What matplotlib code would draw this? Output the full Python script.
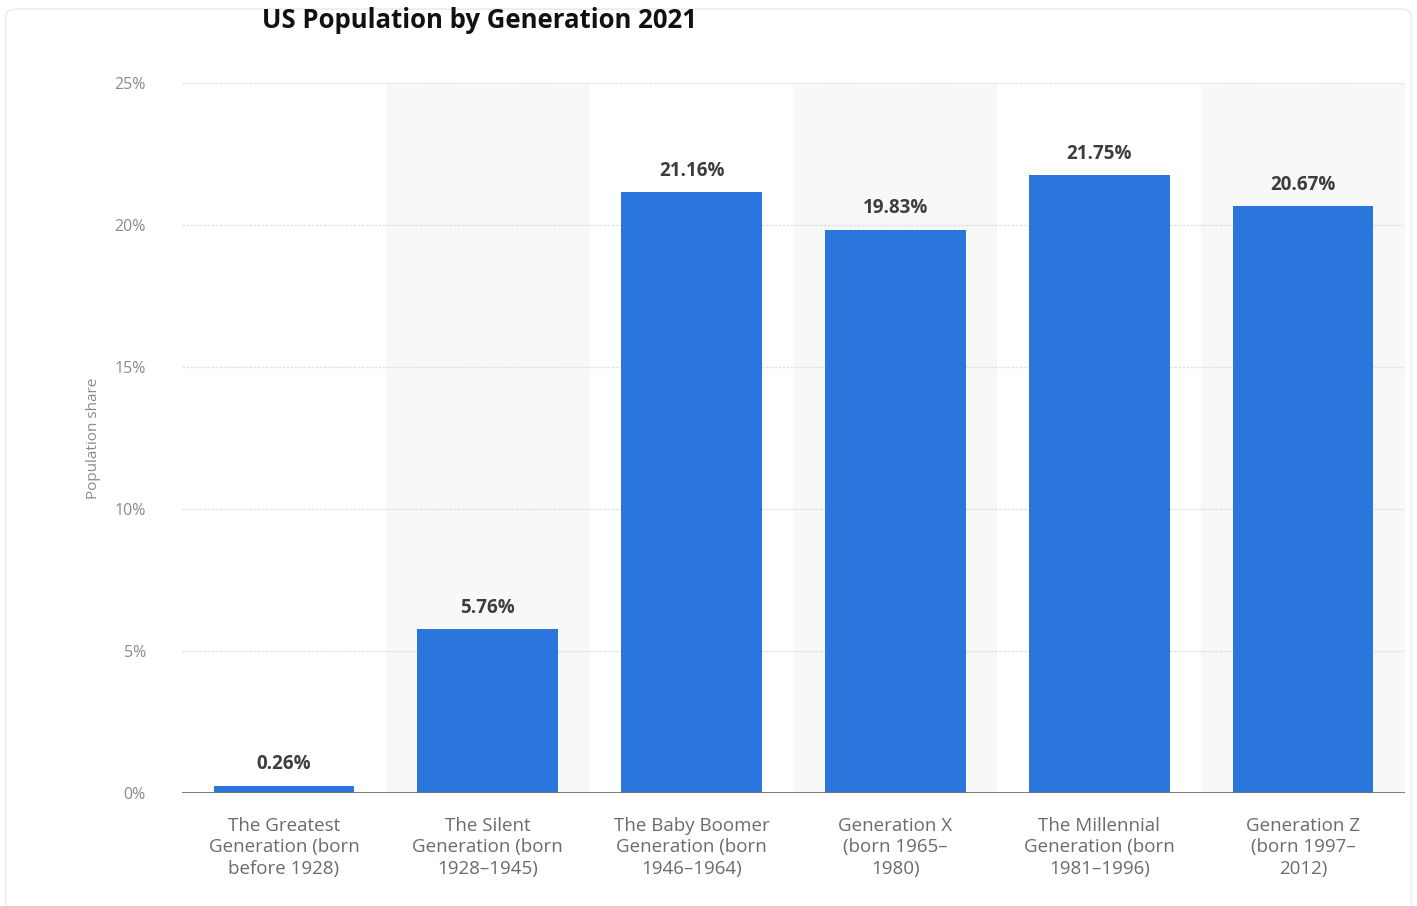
import matplotlib
matplotlib.use("Agg")
import matplotlib.pyplot as plt
from matplotlib.patches import FancyBboxPatch
import numpy as np

# share of US population per generation, 2021
generations = ["The Greatest\nGeneration (born\nbefore 1928)",
               "The Silent\nGeneration (born\n1928\u20131945)",
               "The Baby Boomer\nGeneration (born\n1946\u20131964)",
               "Generation X\n(born 1965\u2013\n1980)",
               "The Millennial\nGeneration (born\n1981\u20131996)",
               "Generation Z\n(born 1997\u2013\n2012)"]
shares = [0.26, 5.76, 21.16, 19.83, 21.75, 20.67]
yticks = [0, 5, 10, 15, 20, 25]

BAR = "#2a76dd"
GREY = "#6b6b6b"

fig = plt.figure(figsize=(14.17, 9.06), dpi=100)
# faint card outline
fig.patches.append(FancyBboxPatch((0.004, -0.02), 0.992, 1.01, transform=fig.transFigure,
                                  boxstyle="round,pad=0,rounding_size=0.008",
                                  fc="white", ec="#ececec", lw=1.2, zorder=-10))
ax = fig.add_axes([182/1417, 1 - 793/906, (1405-182)/1417, (793-83)/906])
ax.set_facecolor("none")

x = np.arange(len(shares))
# alternating column shading
for i in x:
    if i % 2 == 1:
        ax.axvspan(i - 0.5, i + 0.5, color="#f8f8f8", zorder=0, lw=0)

for t in yticks[1:]:
    ax.axhline(t, color="#e2e2e2", lw=1.0, ls=(0, (2, 1)), zorder=1)

bars = ax.bar(x, shares, width=0.69, color=BAR, zorder=3)
for xi, v in zip(x, shares):
    ax.text(xi, v + 0.4, f"{v:.2f}%", ha="center", va="bottom",
            fontsize=13.5, fontweight="bold", color="#3d3d3d", family="Open Sans", zorder=4)

ax.axhline(0, color="#707070", lw=2.0, zorder=5)

ax.set_xlim(-0.5, len(shares) - 0.5)
ax.set_ylim(0, 25)
ax.set_yticks(yticks)
ax.set_yticklabels([f"{t}%" for t in yticks], color="#8a8a8a", fontsize=11.5, family="Open Sans")
ax.set_xticks(x)
ax.set_xticklabels(generations, color=GREY, fontsize=13.5, family="Open Sans", linespacing=1.25)
ax.tick_params(axis="y", length=0, pad=26)
ax.tick_params(axis="x", length=0, pad=17)
for s in ax.spines.values():
    s.set_visible(False)

ax.set_ylabel("Population share", color="#8a8a8a", fontsize=11, family="Open Sans", labelpad=10)

fig.text(262/1417, 1 - 20/906, "US Population by Generation 2021", ha="left", va="center",
         fontsize=18.5, fontweight="bold", family="Open Sans", color="#111111")

fig.savefig("out.png", dpi=100)
